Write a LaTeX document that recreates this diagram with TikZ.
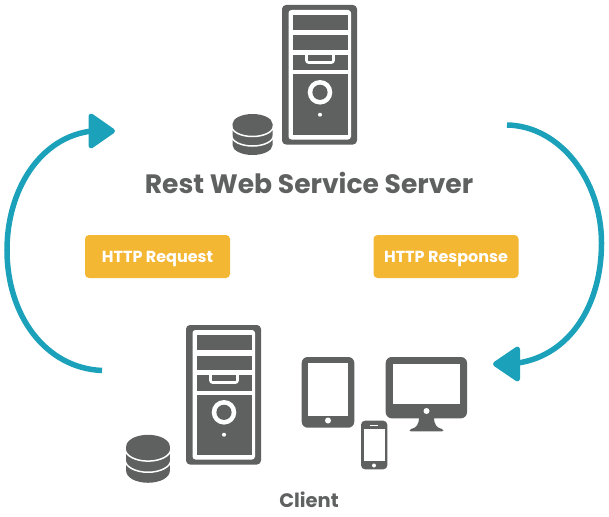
\documentclass[tikz,border=0pt]{standalone}
\usepackage{fontspec}
\setmainfont{Poppins}
\definecolor{dk}{HTML}{5F6060}
\definecolor{teal}{HTML}{1BA1B9}
\definecolor{gold}{HTML}{F4B733}
\tikzset{
  badge/.style={fill=gold,rounded corners=4pt,minimum width=145pt,minimum height=43pt,inner sep=0pt,text=white,font=\fontsize{16}{16}\selectfont\bfseries},
  flow/.style={draw=teal,line width=5.5pt},
  head/.style={fill=teal,draw=teal,line width=5pt,line join=round},
  label/.style={text=dk,inner sep=0pt}
}
\newcommand{\towerpc}[2]{%
 \begin{scope}[shift={(#1,#2)}]
  \fill[dk,rounded corners=4pt] (282,5) rectangle (357,144.5);
  \fill[white,rounded corners=3pt] (288.5,10) rectangle (351,139.5);
  \fill[dk] (292.7,15) rectangle (347.7,30);
  \fill[dk] (292.7,35.5) rectangle (347.7,50);
  \fill[dk] (292.7,55) rectangle (347.7,70.5);
  \fill[dk] (292.7,74.5) rectangle (347.7,134.5);
  \draw[white,line width=2.6pt,rounded corners=2pt] (306.5,55) -- (306.5,62.5) -- (333.5,62.5) -- (333.5,55);
  \fill[white] (320,92.3) circle (12.3);
  \fill[dk] (320,92.3) circle (7.6);
  \fill[white] (320,114.7) circle (2);
 \end{scope}}
\newcommand{\dbstack}[4]{%
 \begin{scope}[shift={(#1,#2)},xscale=#3,yscale=#4]
  \fill[dk] (-20,0) -- (20,0) -- (20,21) arc[start angle=0,end angle=180,x radius=20,y radius=10] -- cycle;
  \fill[dk] (0,0) ellipse[x radius=20,y radius=10];
  \draw[white,line width=1.5pt] (-21,2) arc[start angle=180,end angle=0,x radius=21,y radius=10.5];
  \draw[white,line width=1.5pt] (-21,11.5) arc[start angle=180,end angle=0,x radius=21,y radius=10.5];
 \end{scope}}
\begin{document}
\begin{tikzpicture}[x=1pt,y=-1pt]
\useasboundingbox (0,0) rectangle (609,516);
% servers
\towerpc{0}{0}
\towerpc{-96}{320}
\dbstack{252.5}{124}{1}{1}
\dbstack{148}{446.5}{1.09}{1.17}
% devices
\fill[dk,rounded corners=6pt] (301.7,357) rectangle (354.3,427.7);
\fill[white] (308.3,363.3) rectangle (348.3,415.7);
\fill[white] (328,420.5) circle (3);
\fill[dk,rounded corners=4pt] (361,420.7) rectangle (387.3,469.3);
\fill[white] (363.7,428.7) rectangle (385,461);
\fill[white] (374,465.5) circle (2);
\fill[white] (369.5,424.5) rectangle (377.5,425.5);
\fill[dk] (419,417) .. controls (419,425) and (416,428) .. (411,429) .. controls (409,430) and (409,431.3) .. (411,431.3) -- (442,431.3) .. controls (444,431.3) and (444,430) .. (442,429) .. controls (437,428) and (434,425) .. (434,417) -- cycle;
\fill[dk,rounded corners=6pt] (385.7,357) rectangle (467,418.3);
\fill[white] (393,364) rectangle (460,404.3);
\fill[white] (426.5,411) circle (3);
% labels
\node[label,font=\fontsize{26.6}{26.6}\selectfont\bfseries] (title) at (309,183) {Rest Web Service Server};
\node[label,font=\fontsize{19.5}{19.5}\selectfont\bfseries] (client) at (309,500) {Client};
\node[badge,text depth=0pt,text height=12pt,font=\fontsize{16}{16}\selectfont\bfseries] (req) at (157.5,256.5) {HTTP Request};
\node[badge,text depth=0pt,text height=12pt] (resp) at (446,256.5) {HTTP Response};
% connectors
\coordinate (la) at (102,370.5);
\coordinate (lb) at (92,131);
\coordinate (ra) at (507,125);
\coordinate (rb) at (518,363);
\draw[flow] (la) .. controls (45,368) and (7,315) .. (7,250) .. controls (7,190) and (40,137) .. (lb);
\draw[flow] (ra) .. controls (560,126) and (601.5,180) .. (601.5,243) .. controls (601.5,305) and (570,355) .. (rb);
\draw[head] (91,116) -- (112.5,131) -- (91,146) -- cycle;
\draw[head] (517.5,349) -- (495.5,364) -- (517.5,379) -- cycle;
\end{tikzpicture}
\end{document}
